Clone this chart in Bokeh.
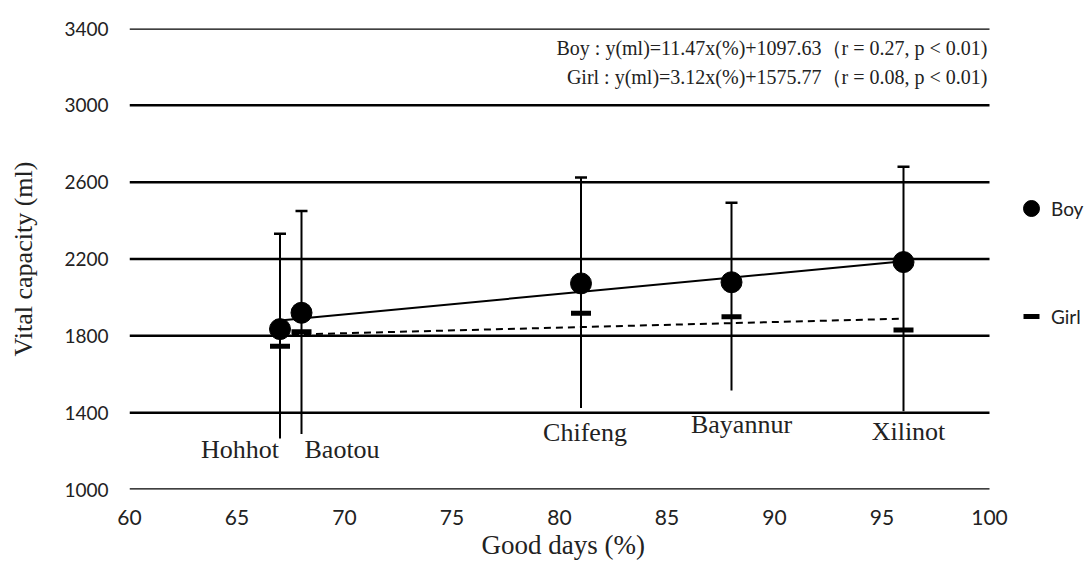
import numpy as np
from bokeh.plotting import figure
from bokeh.models import (ColumnDataSource, Whisker, TeeHead, FixedTicker, Label,
                          Legend, LegendItem, Range1d, Title)
from bokeh.embed import file_html
from bokeh.resources import INLINE

# ---- data ----
cities = ["Hohhot", "Baotou", "Chifeng", "Bayannur", "Xilinot"]
good_days = [67, 68, 81, 88, 96]
boy_mean = [1835, 1920, 2073, 2079, 2184]
boy_upper = [2332, 2450, 2624, 2493, 2680]
girl_mean = [1746, 1821, 1917, 1900, 1830]
girl_lower = [1265, 1289, 1424, 1515, 1407]
x_ticks = [60, 65, 70, 75, 80, 85, 90, 95, 100]
y_ticks = [1000, 1400, 1800, 2200, 2600, 3000, 3400]
eq_boy = "Boy : y(ml)=11.47x(%)+1097.63（r = 0.27, p < 0.01)"
eq_girl = "Girl : y(ml)=3.12x(%)+1575.77（r = 0.08, p < 0.01)"

src = ColumnDataSource(dict(x=good_days, boy=boy_mean, boy_up=boy_upper,
                            girl=girl_mean, girl_lo=girl_lower, city=cities))

# the frame runs to the right window edge so that the legend (right of x=100)
# is not clipped; the axis itself only covers 60..100
LEFT, TOP, BOTTOM, W, H = 129, 28, 76, 1089, 565
x_end = x_ticks[0] + (W - LEFT) * (x_ticks[-1] - x_ticks[0]) / 860.0

p = figure(width=W, height=H, output_backend="svg", toolbar_location=None,
           x_range=Range1d(x_ticks[0], x_end),
           y_range=Range1d(y_ticks[0], y_ticks[-1]),
           min_border_left=LEFT, min_border_right=0, min_border_top=TOP,
           min_border_bottom=BOTTOM, outline_line_color=None)

p.xgrid.grid_line_color = None
p.ygrid.grid_line_color = None
# horizontal grid lines over the 60..100 span
p.segment(x0=[x_ticks[0]] * len(y_ticks), x1=[x_ticks[-1]] * len(y_ticks),
          y0=y_ticks, y1=y_ticks, line_color="black", line_width=2.5)

# axes
for ax in (p.xaxis[0], p.yaxis[0]):
    ax.axis_line_color = None
    ax.major_tick_line_color = None
    ax.minor_tick_line_color = None
    ax.major_tick_out = 0
    ax.major_tick_in = 0
    ax.major_label_text_color = "#222222"
    ax.axis_label_text_font_style = "normal"
    ax.axis_label_text_color = "#222222"
    ax.axis_label_text_font = "Liberation Serif"
    ax.major_label_text_font = "Lato"

p.xaxis.ticker = FixedTicker(ticks=x_ticks)
p.yaxis.ticker = FixedTicker(ticks=y_ticks)
p.yaxis.axis_label = "Vital capacity (ml)"
p.xaxis.major_label_text_font_size = "21px"
p.yaxis.major_label_text_font_size = "19px"
p.yaxis.axis_label_text_font_size = "26px"
p.yaxis.major_label_standoff = 21
p.xaxis.major_label_standoff = 20
p.yaxis.axis_label_standoff = 23

# x title, centred under the 60..100 span
p.add_layout(Title(text="Good days (%)", align="left", offset=352, standoff=0,
                   text_font="Liberation Serif", text_font_size="27px",
                   text_font_style="normal", text_color="#222222"), "below")

# error bars: lower part (girl lower up to boy mean), upper part with cap
p.add_layout(Whisker(source=src, base="x", lower="girl_lo", upper="boy",
                     dimension="height", line_color="black", line_width=2,
                     lower_head=None, upper_head=None))
p.add_layout(Whisker(source=src, base="x", lower="boy", upper="boy_up",
                     dimension="height", line_color="black", line_width=2,
                     lower_head=None,
                     upper_head=TeeHead(size=12, line_color="black", line_width=2.5)))

# trend lines (least-squares through the means)
xs = np.array([min(good_days), max(good_days)], dtype=float)
bfit = np.polyfit(good_days, boy_mean, 1)
gfit = np.polyfit(good_days, girl_mean, 1)
p.line(xs, np.polyval(bfit, xs), line_color="black", line_width=2)
p.line(xs, np.polyval(gfit, xs), line_color="black", line_width=2,
       line_dash="7 5")

r_boy = p.scatter("x", "boy", source=src, marker="circle", size=21,
                  fill_color="black", line_color="black")
r_girl = p.scatter("x", "girl", source=src, marker="dash", size=20,
                   line_color="black", line_width=5)

# city labels
offs = {"Hohhot": ("right", -1, 1210), "Baotou": ("left", 3, 1210),
        "Chifeng": ("center", 4, 1297), "Bayannur": ("center", 10, 1338),
        "Xilinot": ("center", 5, 1302)}
for c, gx in zip(cities, good_days):
    al, dx, ly = offs[c]
    p.add_layout(Label(x=gx, y=ly, text=c, x_offset=dx, text_align=al,
                       text_font="Liberation Serif", text_font_size="26px",
                       text_color="#222222", text_baseline="middle"))

# equation texts
for txt, ty in ((eq_boy, 3300), (eq_girl, 3148)):
    p.add_layout(Label(x=x_ticks[-1], y=ty, x_offset=-2, text=txt,
                       text_align="right", text_baseline="middle",
                       text_font="Liberation Serif", text_font_size="20px",
                       text_color="#222222"))

# legend to the right of the plotted span
legend = Legend(items=[LegendItem(label="Boy", renderers=[r_boy]),
                       LegendItem(label="Girl", renderers=[r_girl])],
                location=(882, 153), orientation="vertical", spacing=68,
                label_text_font="Lato", label_text_font_size="19px",
                label_text_color="#222222", glyph_width=40, glyph_height=40,
                label_standoff=0, padding=0, margin=0,
                border_line_color=None, background_fill_alpha=0)
p.add_layout(legend, "center")

open("out.html", "w").write(file_html(p, INLINE))
